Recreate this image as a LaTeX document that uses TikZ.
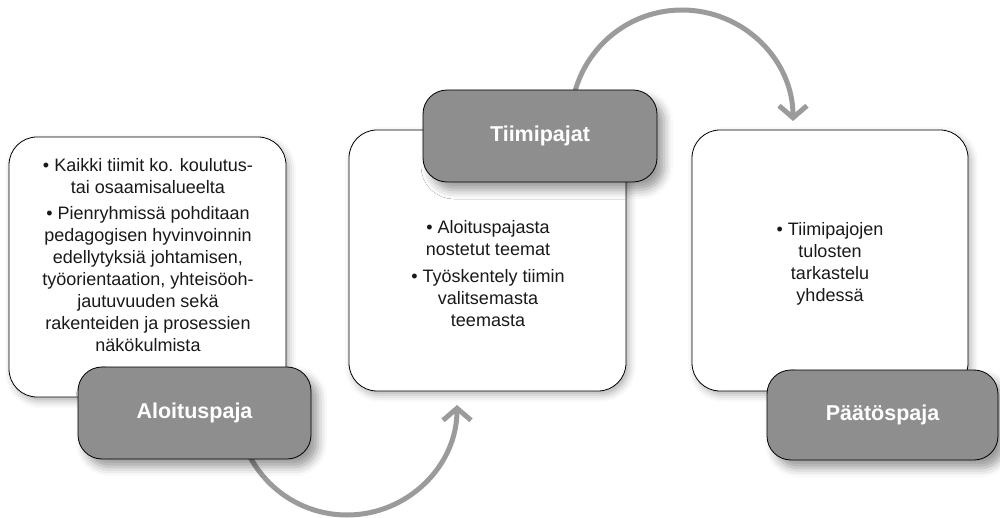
\documentclass[tikz,border=0pt]{standalone}
\usepackage{fontspec}
\setmainfont{Liberation Sans}
\usetikzlibrary{arrows.meta,shadows.blur}
\definecolor{labelgray}{RGB}{142,142,142}
\definecolor{arcgray}{RGB}{155,155,155}
\definecolor{txt}{RGB}{25,25,25}
\begin{document}
\begin{tikzpicture}[x=1pt,y=-1pt,
  box/.style={draw=black, line width=0.8pt, fill=white, rounded corners=28pt,
    inner sep=0pt, blur shadow={shadow xshift=3pt, shadow yshift=-4pt, shadow blur radius=7pt, shadow opacity=30}},
  lab/.style={draw=black, line width=0.8pt, fill=labelgray, rounded corners=24pt,
    inner sep=0pt, text=white, font=\fontsize{21.5}{25}\selectfont\bfseries,
    blur shadow={shadow xshift=7pt, shadow yshift=-8pt, shadow blur radius=9pt, shadow opacity=40}},
  body/.style={align=center, text=txt, font=\fontsize{18}{22}\selectfont, inner sep=0pt},
  conn/.style={draw=arcgray, line width=5pt, -{Straight Barb[length=12pt,width=28pt]}}
]
\useasboundingbox (0,0) rectangle (1000,518);
% connectors (start points hidden behind the label boxes)
\coordinate (c1s) at (237,405);
\coordinate (c2s) at (571,121);
\draw[conn] (c1s) arc[start angle=180, end angle=0, radius=110];
\draw[conn] (c2s) arc[start angle=180, end angle=360, radius=111];
% white boxes
\node[box, minimum width=277pt, minimum height=260pt] (w1) at (147.5,267) {};
\node[box, minimum width=277pt, minimum height=261pt] (w2) at (487.5,260.5) {};
\node[box, minimum width=276pt, minimum height=261pt] (w3) at (830,260.5) {};
% texts
\node[body] (t1) at (148,255) {• Kaikki tiimit ko. koulutus-\\tai osaamisalueelta\\[4pt]• Pienryhmissä pohditaan\\pedagogisen hyvinvoinnin\\edellytyksiä johtamisen,\\työorientaation, yhteisöoh-\\jautuvuuden sekä\\rakenteiden ja prosessien\\näkökulmista};
\node[body] (t2) at (488,274) {• Aloituspajasta\\nostetut teemat\\[5pt]• Työskentely tiimin\\valitsemasta\\teemasta};
\node[body] (t3) at (830,264) {• Tiimipajojen\\tulosten\\tarkastelu\\yhdessä};
% label boxes
\node[lab, minimum width=233pt, minimum height=92pt] (g1) at (194.5,413) {Aloituspaja};
\node[lab, minimum width=234pt, minimum height=92pt] (g2) at (540,136) {Tiimipajat};
\node[lab, minimum width=231pt, minimum height=90pt] (g3) at (882.5,415) {Päätöspaja};
\end{tikzpicture}
\end{document}
